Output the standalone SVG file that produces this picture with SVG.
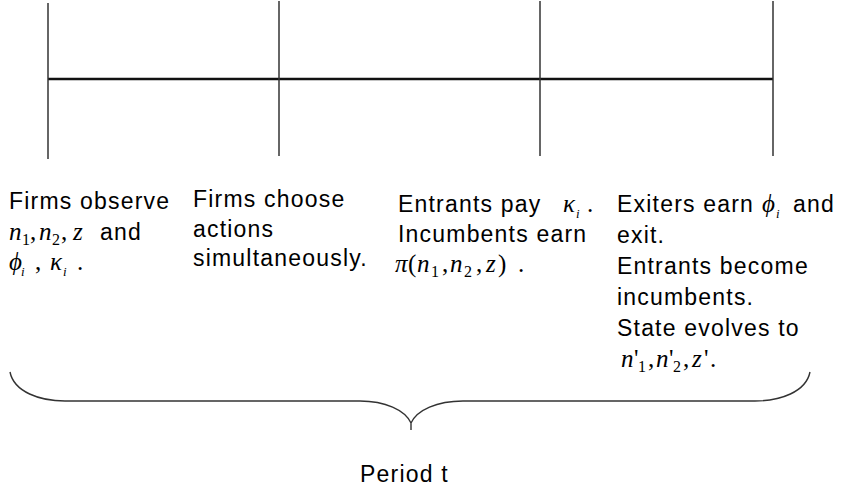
<svg xmlns="http://www.w3.org/2000/svg" width="842" height="494" viewBox="0 0 842 494">
<style>
.t{font-family:"Liberation Sans",Arial,sans-serif;font-size:23px;fill:#000;letter-spacing:1.2px}
.m{font-family:"Liberation Serif","Times New Roman",serif;font-size:25px;font-style:italic;fill:#000}
.r{font-family:"Liberation Serif","Times New Roman",serif;font-size:25px;fill:#000}
.s{font-family:"Liberation Serif","Times New Roman",serif;font-size:16px;fill:#000}
.si{font-family:"Liberation Serif","Times New Roman",serif;font-size:13px;font-style:italic;fill:#000}
.ln{stroke:#333;stroke-width:1.5;fill:none}
.hl{stroke:#111;stroke-width:2.5;fill:none}
.br{stroke:#333;stroke-width:1.4;fill:none}
</style>
<rect width="842" height="494" fill="#fff"/>
<g id="timeline">
<line class="hl" x1="48" y1="79" x2="773" y2="79"/>
<line class="ln" x1="48" y1="3" x2="48" y2="159"/>
<line class="ln" x1="279" y1="1" x2="279" y2="156"/>
<line class="ln" x1="540" y1="1" x2="540" y2="156"/>
<line class="ln" x1="773" y1="1" x2="773" y2="156"/>
</g>
<g id="stage1">
<text class="t" x="9" y="209">Firms observe</text>
<text class="m" x="9" y="240">n</text><text class="s" x="22" y="245">1</text><text class="r" x="30" y="240">,</text>
<text class="m" x="39" y="240">n</text><text class="s" x="52" y="245">2</text><text class="r" x="61" y="240">,</text>
<text class="m" x="73" y="240">z</text>
<text class="t" x="100" y="240">and</text>
<text class="m" x="9" y="270">ϕ</text><text class="si" x="21" y="276">i</text><text class="r" x="35" y="270">,</text>
<text class="m" x="50" y="270">κ</text><text class="si" x="63" y="276">i</text><text class="r" x="77" y="270">.</text>
</g>
<g id="stage2">
<text class="t" x="193" y="207">Firms choose</text>
<text class="t" x="193" y="237">actions</text>
<text class="t" x="193" y="266">simultaneously.</text>
</g>
<g id="stage3">
<text class="t" x="398" y="212">Entrants pay</text>
<text class="m" x="563" y="212">κ</text><text class="si" x="576" y="218">i</text><text class="r" x="587" y="212">.</text>
<text class="t" x="398" y="242">Incumbents earn</text>
<text class="m" x="395" y="272">π</text><text class="r" x="408" y="272">(</text>
<text class="m" x="417" y="272">n</text><text class="s" x="431" y="277">1</text><text class="r" x="442" y="272">,</text>
<text class="m" x="450" y="272">n</text><text class="s" x="464" y="277">2</text><text class="r" x="476" y="272">,</text>
<text class="m" x="486" y="272">z</text><text class="r" x="498" y="272">)</text><text class="r" x="518" y="272">.</text>
</g>
<g id="stage4">
<text class="t" x="617" y="212">Exiters earn</text>
<text class="m" x="762" y="212">ϕ</text><text class="si" x="776" y="218">i</text>
<text class="t" x="793" y="212">and</text>
<text class="t" x="617" y="243">exit.</text>
<text class="t" x="617" y="274">Entrants become</text>
<text class="t" x="617" y="305">incumbents.</text>
<text class="t" x="617" y="336">State evolves to</text>
<text class="m" x="621" y="367">n</text><text class="r" x="634" y="367">'</text><text class="s" x="638" y="372">1</text><text class="r" x="648" y="367">,</text>
<text class="m" x="656" y="367">n</text><text class="r" x="669" y="367">'</text><text class="s" x="673" y="372">2</text><text class="r" x="683" y="367">,</text>
<text class="m" x="692" y="367">z</text><text class="r" x="704" y="367">'</text><text class="r" x="710" y="367">.</text>
</g>
<g id="connectors">
<path class="br" d="M10,372 C14,392 40,401 65,401 L360,401 C385,401 405,410 411,423 L411,430 M411,423 C417,410 437,401 463,401 L755,401 C780,401 806,392 810,372"/>
</g>
<g id="label">
<text class="t" x="360" y="482">Period t</text>
</g>
</svg>
